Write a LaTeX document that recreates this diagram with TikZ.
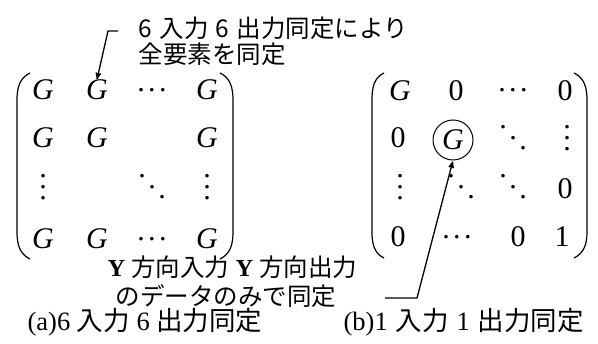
\documentclass[tikz,border=0pt]{standalone}
\usepackage{fontspec}
\setmainfont{Liberation Serif}
\newfontfamily\jpfont{Noto Sans CJK JP}
\usetikzlibrary{arrows}
\usetikzlibrary{positioning}

% dots made of text periods, so that they scale with the font
\newcommand{\hdts}{\raisebox{6pt}{.\kern3.5pt.\kern3.5pt.}}
\newcommand{\vdts}{\vbox{\baselineskip=11pt\lineskiplimit=0pt\hbox{.}\hbox{.}\hbox{.}}}
\newcommand{\ddts}{\raisebox{21pt}{.}\kern2.5pt\raisebox{10.5pt}{.}\kern2.5pt.}
\newcommand{\wsp}{\hspace{0.3em}}

\begin{document}
\begin{tikzpicture}[x=1pt,y=-1pt,>=stealth',line width=1.3pt]
		\tikzstyle{entry}=[inner sep=0pt,font=\fontsize{30}{30}\selectfont]
		\tikzstyle{jplabel}=[inner sep=0pt,anchor=west,font=\fontsize{24.5}{24.5}\selectfont]
		\tikzstyle{caption}=[jplabel,font=\fontsize{26.5}{26.5}\selectfont]
		\tikzstyle{paren}=[line width=1.2pt]
		\useasboundingbox (0,0) rectangle (598,344);
		
		% left matrix
		\node[entry] (a11) at (43,90)  {\textit{G}};
		\node[entry] (a12) at (97,90)  {\textit{G}};
		\node[entry] (a13) at (152,93) {\hdts};
		\node[entry] (a14) at (207,90) {\textit{G}};
		\node[entry] (a21) at (43,138) {\textit{G}};
		\node[entry] (a22) at (97,138) {\textit{G}};
		\node[entry] (a24) at (207,138) {\textit{G}};
		\node[entry] (a31) at (43,187) {\vdts};
		\node[entry] (a33) at (152,187) {\ddts};
		\node[entry] (a34) at (207,187) {\vdts};
		\node[entry] (a41) at (43,239) {\textit{G}};
		\node[entry] (a42) at (97,239) {\textit{G}};
		\node[entry] (a43) at (152,242) {\hdts};
		\node[entry] (a44) at (207,239) {\textit{G}};
		
		\draw[paren] (30,73) to[out=205,in=90] (17,100) -- (17,232) to[out=-90,in=155] (30,259);
		\draw[paren] (220,73) to[out=-25,in=90] (233,100) -- (233,232) to[out=-90,in=25] (220,259);
		
		% right matrix
		\node[entry] (b11) at (400,91) {\textit{G}};
		\node[entry] (b12) at (456,91) {0};
		\node[entry] (b13) at (513,93) {\hdts};
		\node[entry] (b14) at (565,91) {0};
		\node[entry] (b21) at (398,138) {0};
		\node[entry,draw,circle,minimum size=40pt,line width=1pt] (b22) at (453,140) {\textit{G}};
		\node[entry] (b23) at (513,138) {\ddts};
		\node[entry] (b24) at (567,138) {\vdts};
		\node[entry] (b31) at (400,187) {\vdts};
		\node[entry] (b32) at (461,187) {\ddts};
		\node[entry] (b33) at (513,187) {\ddts};
		\node[entry] (b34) at (565,189) {0};
		\node[entry] (b41) at (398,237) {0};
		\node[entry] (b42) at (457,240) {\hdts};
		\node[entry] (b43) at (518,237) {0};
		\node[entry] (b44) at (562,237) {1};
		
		\draw[paren] (384,73) to[out=205,in=90] (372,100) -- (372,232) to[out=-90,in=155] (384,258);
		\draw[paren] (574,73) to[out=-25,in=90] (587,100) -- (587,232) to[out=-90,in=25] (574,258);
		
		% labels
		\node[jplabel] (note1) at (138,28) {\jpfont 6\wsp 入力\wsp 6\wsp 出力同定により};
		\node[jplabel] (note2) at (138,54) {\jpfont 全要素を同定};
		\node[jplabel] (note3) at (107,267) {\textbf{Y} {\jpfont 方向入力} \textbf{Y} {\jpfont 方向出力}};
		\node[jplabel] (note4) at (115,296) {\jpfont のデータのみで同定};
		\node[caption] (capa) at (27,322) {(a)6 {\jpfont 入力} 6 {\jpfont 出力同定}};
		\node[caption] (capb) at (343,322) {(b)1\wsp{\jpfont 入力}\wsp 1\wsp{\jpfont 出力同定}};
		
		\coordinate (hookA) at (118,31);
		\coordinate (hookB) at (385,298);
		\draw[->] (hookA) -- (108,31) -- (a12.north);
		\draw[->,shorten >=1pt] (hookB) -- (417,298) -- (b22.south);
\end{tikzpicture}
\end{document}
